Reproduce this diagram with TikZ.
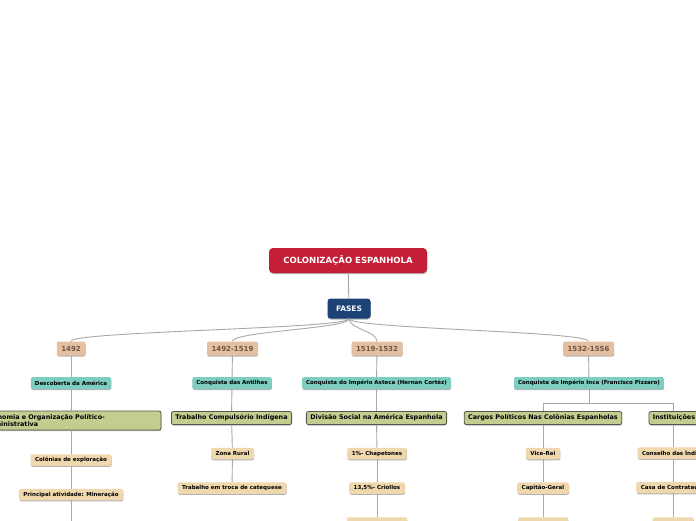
\documentclass[tikz,border=0pt]{standalone}
\usepackage{fontspec}
\setmainfont{DejaVu Sans}
\usetikzlibrary{shadows}
\definecolor{rootred}{HTML}{C41F36}
\definecolor{fasesblue}{HTML}{1D4275}
\definecolor{phasetan}{HTML}{E4BFA0}
\definecolor{phasetext}{HTML}{6E5646}
\definecolor{eventteal}{HTML}{7DCDC1}
\definecolor{topicgreen}{HTML}{C4CD90}
\definecolor{topicborder}{HTML}{55584A}
\definecolor{leafbeige}{HTML}{EFD8AE}
\definecolor{linkgray}{HTML}{A8A8A8}
\tikzset{
  mapbox/.style={rounded corners=2pt, inner ysep=0pt, font=\bfseries,
    drop shadow={shadow xshift=0.3pt, shadow yshift=-1pt, opacity=0.3, fill=black}},
  rootbox/.style={mapbox, fill=rootred, text=white, rounded corners=4pt,
    minimum width=158pt, minimum height=25pt, font=\bfseries\fontsize{8.5}{10}\selectfont},
  fasesbox/.style={mapbox, fill=fasesblue, text=white, rounded corners=3pt,
    minimum width=43pt, minimum height=20pt, font=\bfseries\fontsize{7.5}{9}\selectfont},
  phasebox/.style={mapbox, fill=phasetan, text=phasetext, inner xsep=4.5pt,
    minimum height=14pt, font=\bfseries\fontsize{7}{8}\selectfont},
  eventbox/.style={mapbox, fill=eventteal, inner xsep=4pt,
    minimum height=12pt, font=\bfseries\fontsize{5.5}{6.5}\selectfont},
  topicbox/.style={mapbox, fill=topicgreen, draw=topicborder, line width=0.8pt,
    inner xsep=4pt, minimum height=13pt, font=\bfseries\fontsize{6.4}{7.2}\selectfont},
  leafbox/.style={mapbox, fill=leafbeige, inner xsep=4.5pt,
    minimum height=11.5pt, font=\bfseries\fontsize{5.5}{6.5}\selectfont},
  link/.style={draw=linkgray, line width=0.9pt}
}
\begin{document}
\begin{tikzpicture}[x=1pt, y=-1pt]
  \useasboundingbox (0,0) rectangle (696,520);
  \node[rootbox] (root) at (348,260.5) {COLONIZAÇÃO ESPANHOLA};
  \node[fasesbox] (fases) at (349,308.5) {FASES};
  % fases
  \node[phasebox] (p1492) at (71,348.5) {1492};
  \node[phasebox] (p1519) at (232.5,348.5) {1492-1519};
  \node[phasebox] (p1532) at (377,348.5) {1519-1532};
  \node[phasebox] (p1556) at (588.5,348.5) {1532-1556};
  % eventos
  \node[eventbox] (america) at (71,383) {Descoberta da América};
  \node[eventbox] (antilhas) at (232,383) {Conquista das Antilhas};
  \node[eventbox] (asteca) at (376.5,383) {Conquista do Império Asteca (Hernan Cortéz)};
  \node[eventbox] (inca) at (589,383) {Conquista do Império Inca (Francisco Pizzaro)};
  \coordinate (incafork) at (589,403);
  % temas
  \node[topicbox, align=left, minimum width=180pt, text width=172pt, minimum height=19pt]
    (economia) at (71,420.5) {Economia e Organização Político-\\Administrativa};
  \node[topicbox] (trabalho) at (231.5,418) {Trabalho Compulsório Indígena};
  \node[topicbox] (divisao) at (376.5,418) {Divisão Social na América Espanhola};
  \node[topicbox] (cargos) at (543,418) {Cargos Políticos Nas Colônias Espanholas};
  \node[topicbox] (inst) at (674,418) {Instituições};
  % folhas
  \node[leafbox] (exploracao) at (71,460) {Colônias de exploração};
  \node[leafbox] (mineracao) at (71,494.5) {Principal atividade: Mineração};
  \coordinate (economiaend) at (71,521);
  \node[leafbox] (rural) at (232.5,453.5) {Zona Rural};
  \node[leafbox] (catequese) at (232,488) {Trabalho em troca de catequese};
  \node[leafbox] (chapetones) at (377,453.5) {1\%- Chapetones};
  \node[leafbox] (criollos) at (377,488) {13,5\%- Criollos};
  \node[leafbox, minimum width=60pt] (divisaonext) at (377,523) {};
  \node[leafbox] (vicerei) at (543,453.5) {Vice-Rei};
  \node[leafbox] (capitao) at (543,488) {Capitão-Geral};
  \node[leafbox, minimum width=50pt] (cargosnext) at (543,523) {};
  \node[leafbox] (conselho) at (673,453) {Conselho das Índias};
  \node[leafbox] (casa) at (673,487.5) {Casa de Contratação};
  \node[leafbox, minimum width=41pt] (instnext) at (673,523) {};
  \begin{scope}[link]
    \draw (root) -- (fases);
    \foreach \p in {p1492,p1519,p1532,p1556}
      \draw (fases.south) .. controls +(0,10) and +(0,-10) .. (\p.north);
    \draw (p1492) -- (america);
    \draw (p1519) -- (antilhas);
    \draw (p1532) -- (asteca);
    \draw (p1556) -- (inca);
    \draw (america) -- (economia);
    \draw (antilhas) -- (trabalho);
    \draw (asteca) -- (divisao);
    \draw (inca) -- (incafork) -| (cargos);
    \draw (incafork) -| (inst.north -| conselho);
    \draw (economia) -- (exploracao);
    \draw (exploracao) -- (mineracao);
    \draw (mineracao) -- (economiaend);
    \draw (trabalho) -- (rural);
    \draw (rural) -- (catequese);
    \draw (divisao) -- (chapetones);
    \draw (chapetones) -- (criollos);
    \draw (criollos) -- (divisaonext);
    \draw (cargos) -- (vicerei);
    \draw (vicerei) -- (capitao);
    \draw (capitao) -- (cargosnext);
    \draw (inst.south -| conselho) -- (conselho);
    \draw (conselho) -- (casa);
    \draw (casa) -- (instnext);
  \end{scope}
\end{tikzpicture}
\end{document}
